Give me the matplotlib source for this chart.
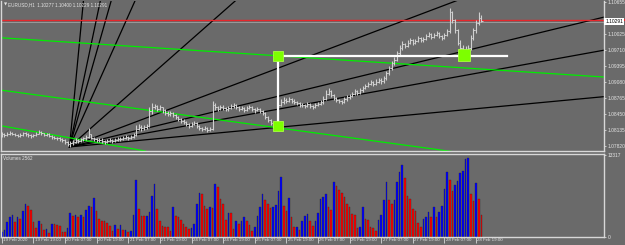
import matplotlib.pyplot as plt
from matplotlib.patches import Rectangle
import numpy as np

# EURUSD H1, 19 Feb 2020 06:00 -> 28 Feb 2020 22:00 (one value per bar)
close = [1.0805, 1.0803, 1.0806, 1.0808, 1.0806, 1.0804, 1.0802, 1.0804, 1.0807, 1.0805,
         1.0803, 1.0801, 1.0803, 1.0806, 1.0809, 1.0807, 1.0804, 1.0805, 1.0802, 1.0800,
         1.0798, 1.0797, 1.0795, 1.0793, 1.0790, 1.0786, 1.0788, 1.0790, 1.0793, 1.0791,
         1.0795, 1.0797, 1.0799, 1.0805, 1.0798, 1.0795, 1.0793, 1.0794, 1.0792, 1.0790,
         1.0791, 1.0793, 1.0792, 1.0794, 1.0796, 1.0795, 1.0797, 1.0799, 1.0798, 1.0800,
         1.0803, 1.0815, 1.0820, 1.0817, 1.0819, 1.0822, 1.0850, 1.0858, 1.0860, 1.0855,
         1.0858, 1.0852, 1.0848, 1.0845, 1.0847, 1.0843, 1.0840, 1.0835, 1.0832, 1.0830,
         1.0826, 1.0822, 1.0825, 1.0828, 1.0822, 1.0818, 1.0815, 1.0818, 1.0814, 1.0816,
         1.0862, 1.0858, 1.0855, 1.0859, 1.0857, 1.0854, 1.0856, 1.0860, 1.0862, 1.0858,
         1.0855, 1.0857, 1.0853, 1.0856, 1.0859, 1.0855, 1.0852, 1.0855, 1.0851, 1.0848,
         1.0840, 1.0833, 1.0827, 1.0822, 1.0820, 1.0862, 1.0868, 1.0872, 1.0870, 1.0874,
         1.0871, 1.0868, 1.0866, 1.0863, 1.0862, 1.0860, 1.0864, 1.0861, 1.0858, 1.0862,
         1.0865, 1.0868, 1.0875, 1.0885, 1.0890, 1.0882, 1.0876, 1.0872, 1.0870, 1.0868,
         1.0874, 1.0878, 1.0880, 1.0885, 1.0890, 1.0886, 1.0892, 1.0896, 1.0900, 1.0905,
         1.0908, 1.0904, 1.0909, 1.0912, 1.0910, 1.0915, 1.0925, 1.0935, 1.0945, 1.0952,
         1.0965, 1.0975, 1.0982, 1.0978, 1.0985, 1.0990, 1.0984, 1.0988, 1.0994, 1.0990,
         1.0992, 1.0998, 1.1002, 1.0996, 1.1000, 1.1004, 1.0999, 1.0995, 1.1000, 1.1008,
         1.1045, 1.1030, 1.1010, 1.0985, 1.0975, 1.0968, 1.0972, 1.0975, 1.0995, 1.1010,
         1.1025, 1.1035, 1.1029]

high = [1.0810, 1.0808, 1.0809, 1.0811, 1.0810, 1.0808, 1.0806, 1.0807, 1.0810, 1.0809,
        1.0807, 1.0805, 1.0806, 1.0809, 1.0813, 1.0811, 1.0808, 1.0808, 1.0807, 1.0804,
        1.0802, 1.0800, 1.0799, 1.0797, 1.0795, 1.0792, 1.0792, 1.0794, 1.0797, 1.0796,
        1.0798, 1.0800, 1.0803, 1.0817, 1.0806, 1.0800, 1.0797, 1.0798, 1.0797, 1.0794,
        1.0795, 1.0797, 1.0796, 1.0798, 1.0800, 1.0799, 1.0801, 1.0803, 1.0802, 1.0804,
        1.0807, 1.0824, 1.0826, 1.0823, 1.0823, 1.0826, 1.0858, 1.0866, 1.0865, 1.0862,
        1.0862, 1.0859, 1.0854, 1.0850, 1.0851, 1.0849, 1.0845, 1.0842, 1.0838, 1.0835,
        1.0832, 1.0828, 1.0829, 1.0832, 1.0829, 1.0824, 1.0820, 1.0822, 1.0820, 1.0820,
        1.0870, 1.0866, 1.0860, 1.0863, 1.0862, 1.0859, 1.0860, 1.0864, 1.0866, 1.0864,
        1.0860, 1.0861, 1.0858, 1.0860, 1.0863, 1.0860, 1.0857, 1.0858, 1.0857, 1.0853,
        1.0849, 1.0842, 1.0835, 1.0829, 1.0825, 1.0868, 1.0874, 1.0878, 1.0876, 1.0879,
        1.0877, 1.0874, 1.0871, 1.0868, 1.0866, 1.0865, 1.0868, 1.0866, 1.0863, 1.0866,
        1.0869, 1.0872, 1.0880, 1.0892, 1.0896, 1.0892, 1.0884, 1.0878, 1.0875, 1.0873,
        1.0878, 1.0882, 1.0885, 1.0889, 1.0894, 1.0892, 1.0896, 1.0900, 1.0904, 1.0909,
        1.0912, 1.0910, 1.0913, 1.0916, 1.0915, 1.0919, 1.0930, 1.0940, 1.0950, 1.0958,
        1.0970, 1.0980, 1.0988, 1.0985, 1.0990, 1.0995, 1.0992, 1.0992, 1.0998, 1.0996,
        1.0996, 1.1002, 1.1006, 1.1004, 1.1004, 1.1008, 1.1006, 1.1001, 1.1004, 1.1012,
        1.1053, 1.1048, 1.1033, 1.1012, 1.0990, 1.0980, 1.0978, 1.0980, 1.1000, 1.1015,
        1.1030, 1.1045, 1.1040]

low = [1.0800, 1.0800, 1.0801, 1.0804, 1.0803, 1.0801, 1.0799, 1.0800, 1.0802, 1.0802,
       1.0800, 1.0797, 1.0799, 1.0802, 1.0805, 1.0804, 1.0801, 1.0801, 1.0799, 1.0796,
       1.0795, 1.0793, 1.0792, 1.0790, 1.0786, 1.0782, 1.0780, 1.0785, 1.0788, 1.0787,
       1.0789, 1.0792, 1.0794, 1.0797, 1.0795, 1.0791, 1.0789, 1.0790, 1.0788, 1.0786,
       1.0787, 1.0789, 1.0788, 1.0790, 1.0792, 1.0791, 1.0793, 1.0795, 1.0794, 1.0796,
       1.0798, 1.0801, 1.0813, 1.0812, 1.0814, 1.0816, 1.0820, 1.0846, 1.0854, 1.0851,
       1.0852, 1.0848, 1.0844, 1.0841, 1.0842, 1.0839, 1.0836, 1.0831, 1.0828, 1.0826,
       1.0822, 1.0818, 1.0820, 1.0823, 1.0818, 1.0814, 1.0811, 1.0813, 1.0810, 1.0811,
       1.0814, 1.0853, 1.0850, 1.0853, 1.0852, 1.0850, 1.0851, 1.0854, 1.0857, 1.0854,
       1.0851, 1.0852, 1.0849, 1.0851, 1.0854, 1.0850, 1.0848, 1.0850, 1.0847, 1.0843,
       1.0836, 1.0829, 1.0823, 1.0818, 1.0815, 1.0818, 1.0860, 1.0865, 1.0866, 1.0868,
       1.0867, 1.0864, 1.0862, 1.0859, 1.0858, 1.0856, 1.0858, 1.0857, 1.0854, 1.0856,
       1.0860, 1.0863, 1.0865, 1.0873, 1.0882, 1.0878, 1.0872, 1.0868, 1.0866, 1.0864,
       1.0866, 1.0870, 1.0875, 1.0878, 1.0883, 1.0882, 1.0884, 1.0889, 1.0894, 1.0898,
       1.0902, 1.0900, 1.0902, 1.0906, 1.0905, 1.0907, 1.0912, 1.0922, 1.0932, 1.0942,
       1.0950, 1.0962, 1.0972, 1.0974, 1.0976, 1.0982, 1.0980, 1.0982, 1.0986, 1.0986,
       1.0987, 1.0990, 1.0996, 1.0992, 1.0994, 1.0998, 1.0995, 1.0991, 1.0993, 1.0998,
       1.1005, 1.1025, 1.1005, 1.0980, 1.0970, 1.0962, 1.0964, 1.0968, 1.0972, 1.0990,
       1.1005, 1.1020, 1.1026]

volume = [702, 1134, 2430, 3132, 3510, 2430, 3240, 2862, 4212, 5400,
          5022, 4320, 2430, 1404, 2484, 2052, 1080, 1188, 540, 2052,
          2000, 1950, 1782, 702, 680, 1404, 3888, 3402, 3564, 3132,
          3564, 3132, 4320, 5022, 4752, 6264, 4212, 2862, 2592, 2484,
          2268, 1782, 972, 1944, 1242, 1944, 1080, 1100, 702, 972,
          3510, 9180, 4482, 3402, 3294, 3402, 4050, 6642, 8532, 4482,
          2592, 1782, 1620, 1600, 972, 4860, 3402, 3132, 2700, 2052,
          1512, 1242, 1350, 2052, 5400, 7182, 6912, 5022, 4482, 4752,
          4644, 8640, 8100, 6102, 5292, 2754, 3888, 3780, 1242, 2484,
          2052, 2484, 3240, 2484, 1944, 972, 1620, 3348, 4860, 6912,
          5940, 5292, 4644, 4860, 5238, 7452, 9720, 5022, 4212, 6264,
          3240, 1512, 1620, 1080, 2484, 3348, 3672, 2592, 1782, 2592,
          3780, 6102, 6480, 7020, 4860, 4320, 8856, 8262, 7560, 7182,
          6480, 5292, 4752, 3672, 3564, 1350, 1620, 4860, 2862, 2754,
          1512, 1404, 972, 2700, 3564, 5940, 8910, 5940, 5292, 6048,
          8964, 10584, 11772, 9612, 6642, 6102, 4482, 4212, 2160, 1620,
          2862, 3132, 3942, 3240, 4752, 3240, 3942, 5022, 7722, 10584,
          9180, 7452, 8424, 9072, 10422, 10692, 12744, 12852, 6912, 5832,
          8748, 6102, 3564]

date_labels = ["19 Feb 2020", "19 Feb 19:00", "20 Feb 07:00", "20 Feb 19:00",
               "21 Feb 07:00", "21 Feb 19:00", "24 Feb 07:00", "24 Feb 19:00",
               "25 Feb 07:00", "25 Feb 19:00", "26 Feb 07:00", "26 Feb 19:00",
               "27 Feb 07:00", "27 Feb 19:00", "28 Feb 07:00", "28 Feb 19:00"]
date_bars = [0, 12, 24, 36, 48, 60, 72, 84, 96, 108, 120, 132, 144, 156, 168, 180]

# 1.10340 sits under the line labels on the scale, so it is not listed
price_ticks = [1.07820, 1.08135, 1.08450, 1.08765, 1.09080, 1.09395,
               1.09710, 1.10025, 1.10655]
vol_ticks = [0, 13317]

# drawn objects (bar index, price)
fan_origin = (25.7, 1.07802)
fan_slopes = [0.00545, 0.00246, 0.00182, 0.001157, 0.000457,
              0.000196, 0.000126, 0.0000939, 0.0000488]
green_lines = [((-0.5, 1.09952), (228.6, 1.09178)),
               ((-0.5, 1.08922), (173.9, 1.07690)),
               ((-0.5, 1.08220), (54.5, 1.07722))]
red_level = 1.10298
bid_level = 1.10255
box_pts = [(104.8, 1.09598), (104.8, 1.08210), (175.6, 1.09612)]
white_x, white_x_end = 104.8, 191.8
white_top, white_bottom = 1.09598, 1.08155

BG = '#6a6a6a'
FG = '#e4e4e4'
EDGE = '#d8d8d8'
CANDLE = '#d0d0d0'
plt.rcParams['font.family'] = ['Liberation Sans', 'DejaVu Sans']

W, H = 625, 245


def px_rect(x0, y0, x1, y1):
    return [x0 / W, 1 - y1 / H, (x1 - x0) / W, (y1 - y0) / H]


fig = plt.figure(figsize=(W / 100, H / 100), dpi=100, facecolor=BG)
ax = fig.add_axes(px_rect(0.5, 1, 604, 150.5))
axv = fig.add_axes(px_rect(0.5, 153.5, 604, 236.5))

bar_px, first_px = 2.637, 1.3
xlim = (-first_px / bar_px, (604 - first_px) / bar_px)

idx = np.arange(len(close))
opens = [close[0]] + close[:-1]

for a in (ax, axv):
    a.set_facecolor(BG)
    for s in a.spines.values():
        s.set_color(EDGE)
        s.set_linewidth(1.0)
    a.set_xlim(*xlim)
ax.spines['top'].set_visible(False)

# price panel
ax.set_ylim(1.07732, 1.10675)

for k in fan_slopes:
    xe = 240
    ax.plot([fan_origin[0], xe], [fan_origin[1], fan_origin[1] + k * (xe - fan_origin[0])],
            color='black', lw=0.9, zorder=2)

for (x0, y0), (x1, y1) in green_lines:
    ax.plot([x0, x1], [y0, y1], color='#00ee00', lw=0.9, zorder=2)

ax.axhline(bid_level, color='#9a9a9a', lw=0.7, zorder=1)
ax.axhline(red_level, color='#e8262b', lw=1.0, zorder=2)

ax.vlines(idx, low, high, color=CANDLE, lw=0.8, zorder=3)
ax.hlines(close, idx, idx + 0.5, color=CANDLE, lw=0.7, zorder=3)
ax.hlines(opens, idx - 0.5, idx, color=CANDLE, lw=0.7, zorder=3)

ax.plot([white_x, white_x], [white_top, white_bottom], color='white', lw=1.6, zorder=4)
ax.plot([white_x, white_x_end], [white_top, white_top], color='white', lw=1.6, zorder=4)
bx, by = zip(*box_pts)
ax.scatter(bx, by, marker='s', s=[50, 55, 75], color='#7dff00', edgecolors='#a8ff40',
           linewidths=0.6, zorder=5)

ax.yaxis.tick_right()
ax.set_yticks(price_ticks)
ax.set_yticklabels([f'{p:.5f}' for p in price_ticks])
ax.tick_params(axis='y', colors=EDGE, labelcolor=FG, labelsize=3.5, length=1.5,
               width=0.6, pad=1.0)
ax.tick_params(axis='x', bottom=False, labelbottom=False)

# price-scale labels for the red line and the bid
tr = ax.get_yaxis_transform()
ax.add_patch(Rectangle((1.0, red_level - 0.0001), 0.034, 0.00026, transform=tr,
                       facecolor='#e8262b', edgecolor='none', clip_on=False, zorder=6))
ax.text(1.002, bid_level + 0.00008, '1.10291', transform=tr, fontsize=3.5, color='black',
        va='center', ha='left', clip_on=False, zorder=7,
        bbox=dict(boxstyle='square,pad=0.2', fc='white', ec='none'))

ax.text(0.005, 0.988, '\u25bc', transform=ax.transAxes, fontsize=3.0, color=FG,
        va='top', ha='left', family='DejaVu Sans')
ax.text(0.013, 0.99, 'EURUSD,H1  1.10277 1.10400 1.10229 1.10291',
        transform=ax.transAxes, fontsize=3.3, color=FG, va='top', ha='left')

# volume panel
colors = ['#0000ff' if i == 0 or volume[i] >= volume[i - 1] else '#ff0000'
          for i in range(len(volume))]
axv.bar(idx, volume, width=0.62, color=colors, edgecolor='#202020', linewidth=0.2)
axv.set_ylim(0, 13600)
axv.yaxis.tick_right()
axv.set_yticks(vol_ticks)
axv.set_yticklabels([str(v) for v in vol_ticks])
axv.tick_params(axis='y', colors=EDGE, labelcolor=FG, labelsize=3.5, length=1.5,
                width=0.6, pad=1.0)
axv.set_xticks(date_bars)
axv.set_xticklabels([])
axv.tick_params(axis='x', colors=EDGE, length=4, width=0.6)
for b, lab in zip(date_bars, date_labels):
    axv.text(b + 0.5, -0.015, lab, transform=axv.get_xaxis_transform(), fontsize=3.2,
             color=FG, va='top', ha='left', clip_on=False)
axv.text(0.004, 0.97, 'Volumes 2562', transform=axv.transAxes, fontsize=3.3,
         color=FG, va='top', ha='left')

fig.savefig('out.png', dpi=100, facecolor=BG)
